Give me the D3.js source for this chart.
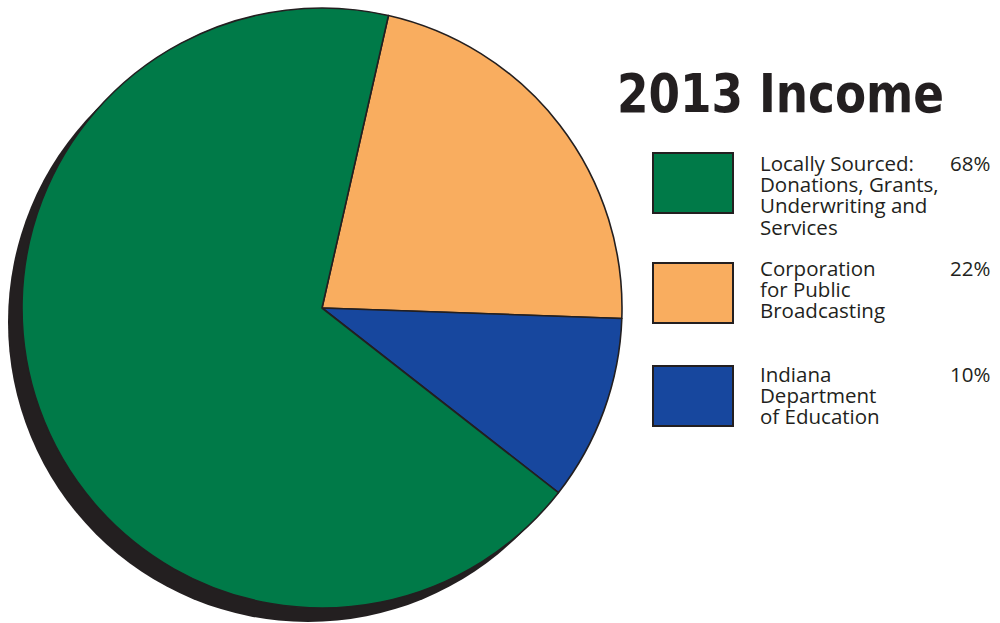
<!DOCTYPE html>
<html>
<head>
<meta charset="utf-8">
<script src="https://cdn.jsdelivr.net/npm/d3@7"></script>
<style>
  html, body { margin: 0; padding: 0; background: #fff; }
  svg { display: block; }
</style>
</head>
<body>
<div id="chart"></div>
<script>
// --- data ---
const categories = ["Corporation for Public Broadcasting", "Indiana Department of Education", "Locally Sourced"];
const shares = [22, 10, 68];
const colors = ["#f9ad5f", "#17479e", "#007a48"];

const legendLines = [
  ["Locally Sourced:", "Donations, Grants,", "Underwriting and", "Services"],
  ["Corporation", "for Public", "Broadcasting"],
  ["Indiana", "Department", "of Education"]
];
const legendPct = ["68%", "22%", "10%"];
const legendColors = ["#007a48", "#f9ad5f", "#17479e"];

const width = 1000, height = 623;
const cx = 322, cy = 308, r = 300;

const svg = d3.select("#chart").append("svg")
  .attr("width", width).attr("height", height);

// drop shadow circle (down-left)
svg.append("circle")
  .attr("cx", cx - 14).attr("cy", cy + 14).attr("r", r)
  .attr("fill", "#231f20");

// pie: orange slice starts ~12.8 deg clockwise from top
const startA = 12.8 * Math.PI / 180;
const pie = d3.pie().sort(null)
  .startAngle(startA).endAngle(startA + 2 * Math.PI);
const arc = d3.arc().innerRadius(0).outerRadius(r);

svg.append("g").attr("transform", `translate(${cx},${cy})`)
  .selectAll("path")
  .data(pie(shares))
  .join("path")
  .attr("d", arc)
  .attr("fill", (d, i) => colors[i])
  .attr("stroke", "#231f20")
  .attr("stroke-width", 1.6)
  .attr("stroke-linejoin", "round");

// title
svg.append("text")
  .attr("x", 617).attr("y", 112)
  .attr("font-family", "'DejaVu Sans', sans-serif")
  .attr("font-weight", "bold")
  .attr("font-size", 53)
  .attr("textLength", 327)
  .attr("lengthAdjust", "spacingAndGlyphs")
  .attr("fill", "#231f20")
  .text("2013 Income");

// legend
const boxY = [153, 263, 366];
const firstBase = [171, 276, 382];
const legend = svg.append("g");
legendLines.forEach((lines, i) => {
  legend.append("rect")
    .attr("x", 653).attr("y", boxY[i])
    .attr("width", 80).attr("height", 60)
    .attr("fill", legendColors[i])
    .attr("stroke", "#231f20").attr("stroke-width", 2);

  const t = legend.append("text")
    .attr("font-family", "'Open Sans', sans-serif")
    .attr("font-size", 20.5)
    .attr("fill", "#231f20");
  lines.forEach((ln, j) => {
    t.append("tspan").attr("x", 760).attr("y", firstBase[i] + j * 21.2).text(ln);
  });

  legend.append("text")
    .attr("x", 950).attr("y", firstBase[i])
    .attr("font-family", "'Open Sans', sans-serif")
    .attr("font-size", 20.5)
    .attr("fill", "#231f20")
    .text(legendPct[i]);
});
</script>
</body>
</html>
